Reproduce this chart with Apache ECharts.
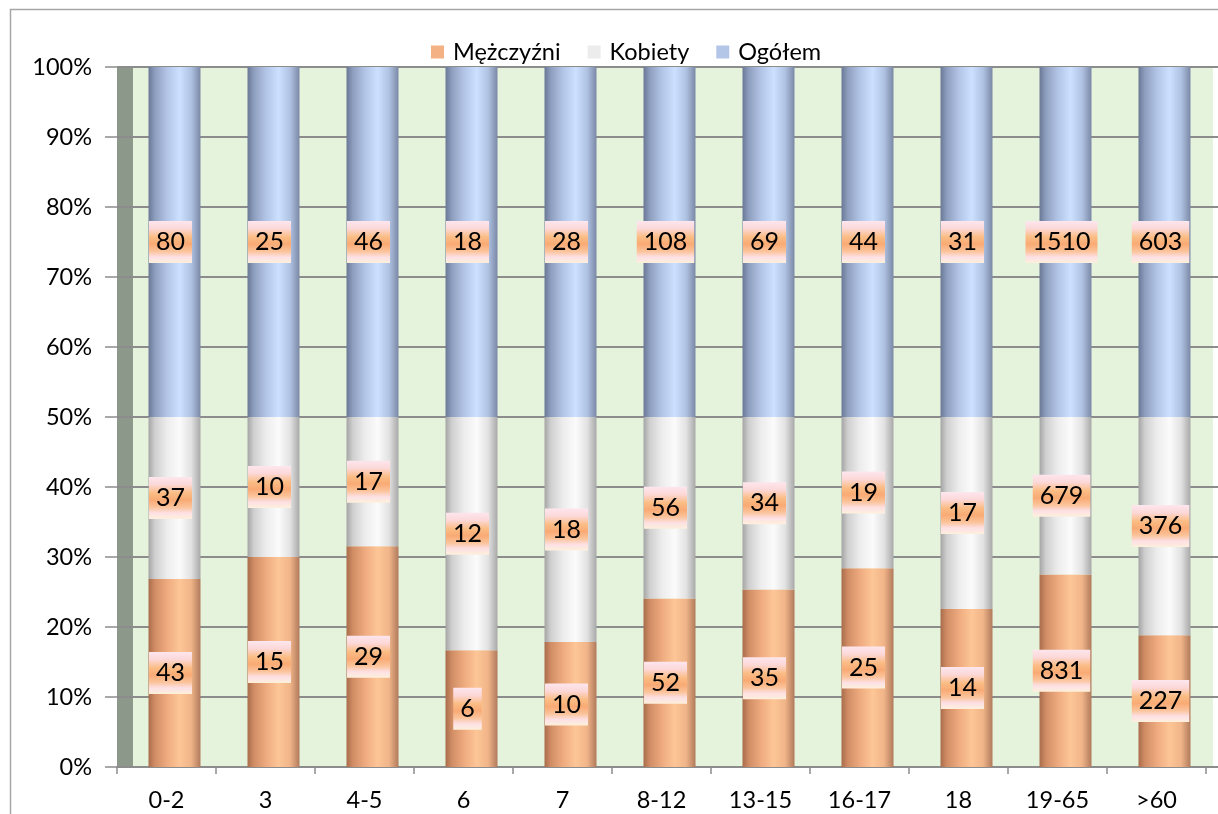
<!DOCTYPE html>
<html>
<head>
<meta charset="utf-8">
<script src="https://cdn.jsdelivr.net/npm/echarts@6/dist/echarts.min.js"></script>
<style>
html,body{margin:0;padding:0;background:#fff;}
#chart{width:1218px;height:814px;}
</style>
</head>
<body>
<div id="chart"></div>
<script>
var categories = ['0-2','3','4-5','6','7','8-12','13-15','16-17','18','19-65','>60'];
var menValues = [43,15,29,6,10,52,35,25,14,831,227];
var womenValues = [37,10,17,12,18,56,34,19,17,679,376];
var totalValues = [80,25,46,18,28,108,69,44,31,1510,603];
var seriesNames = ['Mężczyźni','Kobiety','Ogółem'];
var yTicks = [0,10,20,30,40,50,60,70,80,90,100];

var rawSets = [menValues, womenValues, totalValues];
function pct(arr){
  return arr.map(function(v,i){ var s = menValues[i]+womenValues[i]+totalValues[i]; return v/s*100; });
}

var chart = echarts.init(document.getElementById('chart'), null, {renderer:'canvas'});
var G = echarts.graphic.LinearGradient;
var FONT = 'Lato, "Open Sans", sans-serif';

var blueGrad = new G(0,0,1,0,[
  {offset:0,color:'#6a7896'},{offset:0.12,color:'#8d9dbd'},{offset:0.35,color:'#b2c4e6'},
  {offset:0.6,color:'#cde0ff'},{offset:0.82,color:'#b0c2e2'},{offset:1,color:'#7a88a6'}]);
var orangeGrad = new G(0,0,1,0,[
  {offset:0,color:'#a86c4c'},{offset:0.12,color:'#d08c64'},{offset:0.35,color:'#eeaa7e'},
  {offset:0.6,color:'#fdc696'},{offset:0.82,color:'#f0b488'},{offset:1,color:'#b07a5c'}]);
var whiteGrad = new G(0,0,1,0,[
  {offset:0,color:'#a4a4a4'},{offset:0.12,color:'#cfcfcf'},{offset:0.35,color:'#ececec'},
  {offset:0.6,color:'#fbfbfb'},{offset:0.82,color:'#e2e2e2'},{offset:1,color:'#a8a8a8'}]);
var labelGrad = new G(0,0,0,1,[
  {offset:0,color:'#fde6ee'},{offset:0.18,color:'#fcd8d8'},{offset:0.38,color:'#fbbd85'},
  {offset:0.55,color:'#f9aa74'},{offset:0.72,color:'#fbc39a'},{offset:0.86,color:'#fde0e4'},{offset:1,color:'#fdf0dc'}]);

var barColors = [orangeGrad, whiteGrad, blueGrad];
var legendColors = ['#f4b183','#ececec','#b4c6e7'];

var series = rawSets.map(function(arr, si){
  return {
    name: seriesNames[si],
    type: 'bar',
    stack: 'all',
    xAxisIndex: 4, yAxisIndex: 4,
    barWidth: 52,
    data: pct(arr),
    itemStyle: {color: barColors[si]},
    emphasis: {disabled: true},
    label: {
      show: true, position: 'inside', offset: [-4, 0],
      formatter: function(p){ return String(rawSets[p.seriesIndex][p.dataIndex]); },
      color: '#000', fontFamily: FONT, fontSize: 25, lineHeight: 26,
      backgroundColor: labelGrad, padding: [8, 7, 8, 7]
    }
  };
});

var hiddenCat = {type:'category', data: categories, show:false};
var hiddenVal = {type:'value', min:0, max:100, interval:10, show:false};

var option = {
  animation: false,
  backgroundColor: '#ffffff',
  textStyle: {fontFamily: FONT},
  graphic: [{
    type:'rect', silent:true, z:-20,
    shape:{x:10.5, y:9.5, width:1400, height:1000},
    style:{fill:'none', stroke:'#a6a6a6', lineWidth:1.5}
  }],
  legend: {
    left: 426, top: 35,
    itemWidth: 13, itemHeight: 13, itemGap: 27,
    icon: 'rect',
    textStyle: {fontFamily: FONT, fontSize: 23.5, color:'#000', padding:[0,0,0,4]},
    data: seriesNames.map(function(n,i){ return {name:n, itemStyle:{color:legendColors[i]}}; })
  },
  grid: [
    {left:117, top:67, width:1089, height:700},
    {left:133, top:67, width:1080, height:700, show:true, backgroundColor:'#e6f3dc', borderWidth:0},
    {left:117, top:67, width:16, height:700, show:true, backgroundColor:'#8c988a', borderWidth:0},
    {left:117, top:67, width:1101, height:700},
    {left:125, top:67, width:1089, height:700}
  ],
  xAxis: [
    {type:'category', gridIndex:0, data: categories, boundaryGap:true,
     axisLine:{show:true, lineStyle:{color:'#8c8c8c', width:2}},
     axisTick:{show:true, length:7, interval:0, lineStyle:{color:'#8c8c8c', width:1.5}},
     axisLabel:{interval:0, margin:21, color:'#000', fontFamily:FONT, fontSize:23.5},
     splitLine:{show:false}},
    Object.assign({gridIndex:1}, hiddenCat),
    Object.assign({gridIndex:2}, hiddenCat),
    Object.assign({gridIndex:3}, hiddenCat),
    Object.assign({gridIndex:4}, hiddenCat)
  ],
  yAxis: [
    Object.assign({gridIndex:0}, hiddenVal),
    Object.assign({gridIndex:1}, hiddenVal),
    Object.assign({gridIndex:2}, hiddenVal),
    {type:'value', gridIndex:3, min:0, max:100, interval:10,
     axisLine:{show:false},
     axisTick:{show:true, length:12, lineStyle:{color:'#8c8c8c', width:1.5}},
     axisLabel:{margin:25, color:'#000', fontFamily:FONT, fontSize:23.5,
       formatter:function(v){ return yTicks.indexOf(v) >= 0 ? v + '%' : ''; }},
     splitLine:{show:true, lineStyle:{color:'#8c8c8c', width:2}}},
    Object.assign({gridIndex:4}, hiddenVal)
  ],
  series: series
};
chart.setOption(option);
</script>
</body>
</html>
